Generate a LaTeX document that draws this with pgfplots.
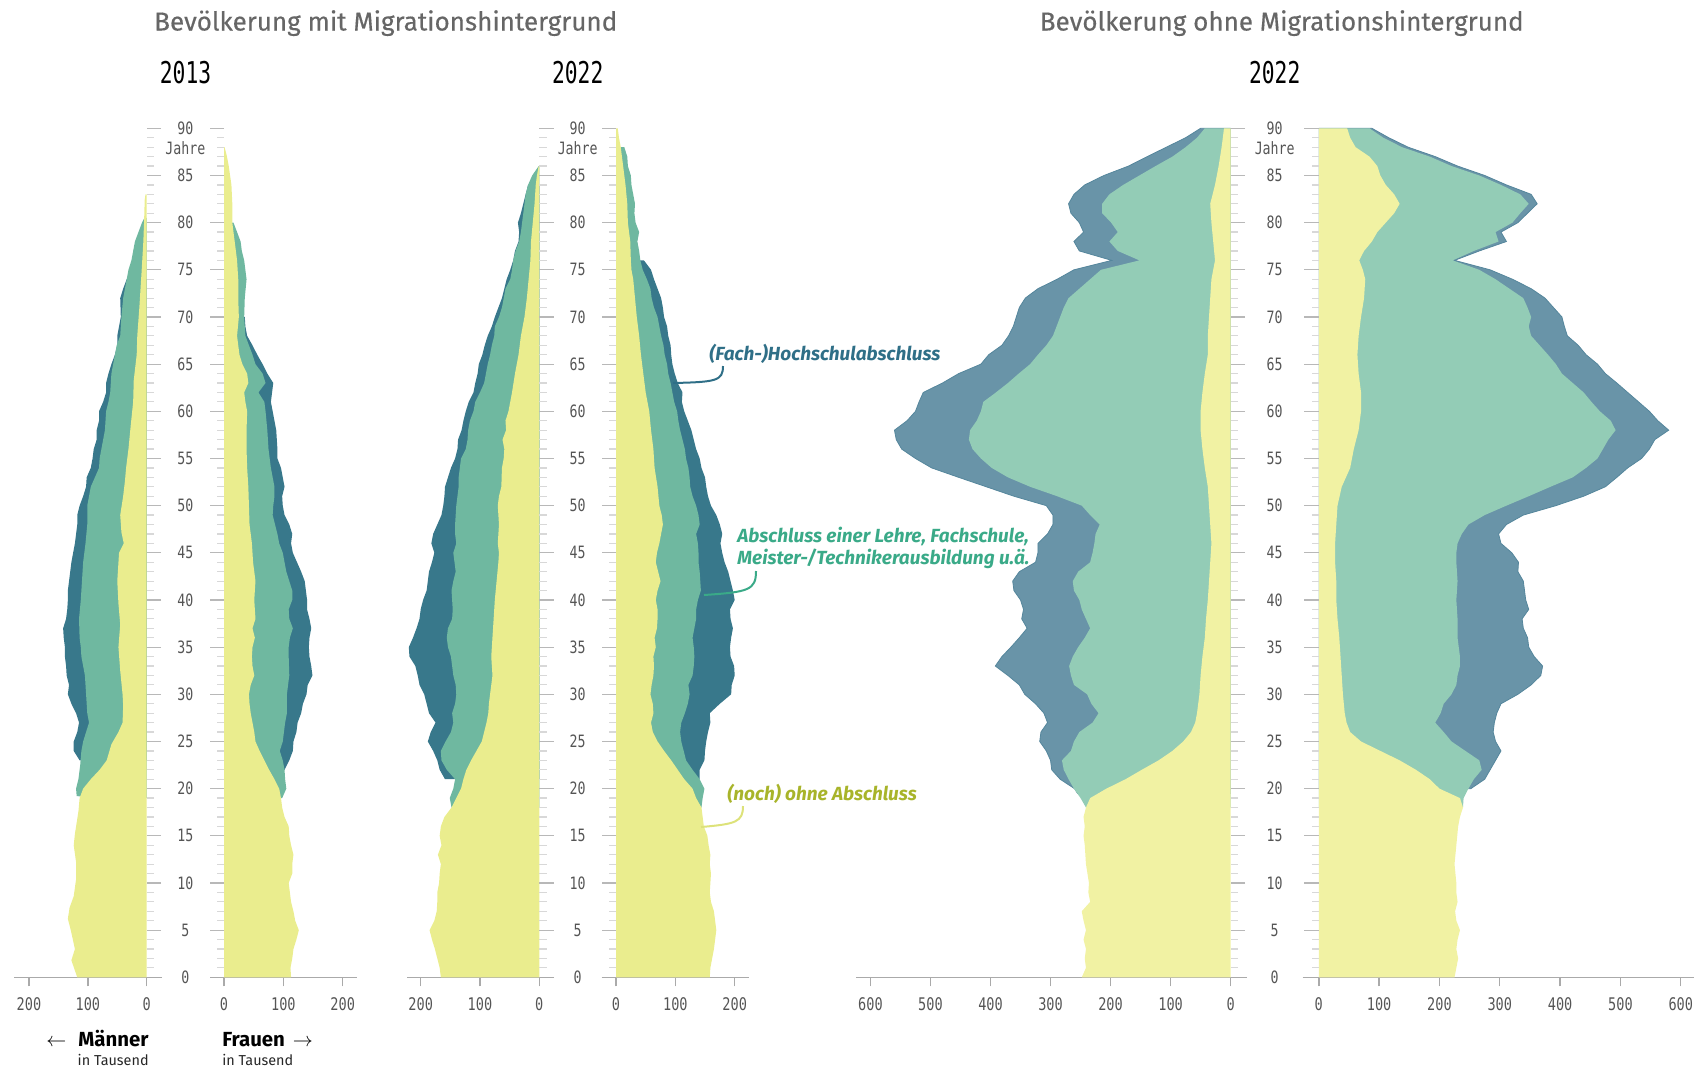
\documentclass[border=0pt]{standalone}
\usepackage{pgfplots}
\pgfplotsset{compat=1.18}
\usepackage{pgfplotstable}
\usepackage{fontspec}
\setmainfont{Fira Sans}
\newfontfamily\titlefont[FakeBold=0.35]{Fira Sans}
\newfontfamily\numfont[FakeStretch=0.78]{DejaVu Sans Mono}
\newfontfamily\yearfont[FakeStretch=0.71]{DejaVu Sans Mono}
\definecolor{Ym}{HTML}{EAED8E}
\definecolor{Gm}{HTML}{6FB8A0}
\definecolor{Tm}{HTML}{38788B}
\definecolor{Yo}{HTML}{F1F2A3}
\definecolor{Go}{HTML}{93CCB6}
\definecolor{To}{HTML}{6994A8}
\definecolor{Toe}{HTML}{55869C}
\definecolor{axgray}{HTML}{AAAAAA}
\definecolor{majg}{HTML}{B8B8B8}
\definecolor{ming}{HTML}{D8D8D8}
\definecolor{lab}{HTML}{555555}
\definecolor{titg}{HTML}{666666}
\definecolor{annT}{HTML}{2F6F87}
\definecolor{annG}{HTML}{3AAA88}
\definecolor{annY}{HTML}{A8B42A}
\definecolor{leadY}{HTML}{DDE27A}

\pgfplotstableread{
a
5
10
15
20
25
30
35
40
45
50
55
60
65
70
75
80
85
90
}\majT
\pgfplotstableread{
a
1
2
3
4
6
7
8
9
11
12
13
14
16
17
18
19
21
22
23
24
26
27
28
29
31
32
33
34
36
37
38
39
41
42
43
44
46
47
48
49
51
52
53
54
56
57
58
59
61
62
63
64
66
67
68
69
71
72
73
74
76
77
78
79
81
82
83
84
86
87
88
89
}\minT

\pgfplotsset{
 pyr/.style={scale only axis, anchor=south west, height=424.5pt, ymin=0, ymax=90, clip=false,
  axis x line*=bottom, axis y line=none,
  x axis line style={draw=axgray, line width=0.7pt},
  xtick align=outside, major tick length=4.5pt,
  tick style={draw=axgray, line width=0.7pt},
  xticklabel style={font=\numfont\fontsize{8.7}{10}\selectfont, text=lab, yshift=-2.2pt},
  /pgf/number format/assume math mode=true,
  ytick=\empty},
 majtk/.style={only marks, mark=-, mark size=3.6pt, mark options={draw=majg, line width=0.6pt}},
 mintk/.style={only marks, mark=-, mark size=1.8pt, mark options={draw=ming, line width=0.6pt}},
}

\begin{document}
\begin{tikzpicture}
\path (0pt,0pt) rectangle (853pt,-536pt);

% ---------- 2013 Maenner ----------
\begin{axis}[pyr, at={(7pt,-488.65pt)}, width=74pt, x dir=reverse, xmin=-26, xmax=225.5, xtick={0,100,200}]
\addplot[fill=Tm, draw=none] coordinates {(0,23)(114,23)(124,24)(124,25)(118,26)(115,27)(120,28)(128,29)(134,30)(132,31)(136,32)(137,33)(139,34)(139,35)(141,36)(142,37)(137,38)(135,39)(134,40)(134,41)(132,42)(130,43)(128,44)(125,45)(122,46)(120,47)(118,48)(118,49)(114,50)(108,51)(103,52)(102,53)(95,54)(92,55)(90,56)(85,57)(85,58)(81,59)(81,60)(74,61)(69,62)(69,63)(65,64)(60,65)(54,66)(50,67)(50,68)(47,69)(44,70)(45,72)(40,73)(34,74)(0,74)};
\addplot[fill=Gm, draw=none] coordinates {(0,19)(119,19.2)(120,20)(116,21)(113,22.5)(111,24)(108,25)(103,26)(98,27)(101,28)(103,30)(105,32)(111,34)(112,35)(114,36)(115,38)(112,40)(110,42)(108,44)(106,45)(104,46)(101,48)(101,50)(95,52)(88,53)(81,54)(80,55)(77,56)(71,58)(69,60)(65,61)(62,62)(60,64)(57,65)(54,66)(51,67)(45,68)(43,70)(40,72)(34,74)(31,75)(26,76)(20,78)(14,79)(8,80)(4,80.5)(0,80.5)};
\addplot[fill=Ym, draw=none] coordinates {(0,0)(118,0)(128,1.8)(122,3)(129,5)(134,6.2)(131,7.4)(124,8.6)(120,10.4)(120,12.2)(124,14)(122,15.2)(119,16.4)(116,17.6)(114,19)(108,20)(95,21)(80,22)(68,23)(60,24.7)(48,26)(41,27)(40,28.8)(41,30)(45,32.5)(48,35)(45,37.4)(48,39.6)(50,42)(47,45)(39,46)(43,47.2)(45,49)(40,51)(37,52.6)(35,54)(31,56)(27,58.6)(23,61)(22,63.3)(17,66)(16,68)(12.5,71)(8.5,75)(5.7,78)(4.5,80)(3.4,82.4)(2,83)(0,83)};
\addplot[majtk] table[x expr=-12.2, y=a] {\majT};
\addplot[mintk] table[x expr=-6.1, y=a] {\minT};
\end{axis}

% ---------- 2013 Frauen ----------
\begin{axis}[pyr, at={(105pt,-488.65pt)}, width=73.5pt, xmin=-23.6, xmax=224.1, xtick={0,100,200}]
\addplot[fill=Tm, draw=none] coordinates {(0,22)(102,22)(110,23)(116,24)(117,25)(122,26)(124,27)(130,28)(133,29)(139,30)(141,31)(149,32)(147,33)(144,34)(143,35)(144,36)(147,37)(144,38)(140,39)(140,40)(138,41)(136,42)(130,43)(123,44)(116,45)(113,46)(115,47)(110,48)(102,49)(99,50)(98,51)(102,52)(99,53)(96,54)(90,55)(90,56)(89,57)(88,58)(85,59)(82,60)(79,61)(81,62)(83,63)(73,64)(65,65)(56,66)(48,67)(39,68)(36,69)(35,70)(0,70)};
\addplot[fill=Gm, draw=none] coordinates {(0,19)(98,19)(105,20)(103,21)(102,22)(99,23)(94,24)(99,25)(101,26)(103,27)(106,28)(106,30)(110,32)(109,34)(109,35)(111,36)(116,37)(110,38)(109,39)(115,40)(115,41)(110,42)(105,43)(102,44)(99,45)(93,46)(90,47)(86,48)(82,49)(83,50)(85,51)(85,52)(82,53)(79,54)(77,55)(75,56)(73,58)(70,60)(68,61)(58,62)(70,63)(65,64)(53,65)(48,66)(42,67)(36,68)(35,69)(34,70)(35,72)(38,74)(36,75)(34,76)(30,77)(28,78)(22,79)(16,80)(0,80)};
\addplot[fill=Ym, draw=none] coordinates {(0,0)(113,0)(112,1)(115,2)(117,3)(122,4)(126,5)(120,6)(117,7)(113,8)(111,9)(109,10)(115,11)(115,12)(117,13)(113,14)(110,15)(109,16)(102,17)(98,18)(96,19)(93,20)(85,21)(76,22)(68,23)(60,24)(53,25)(51,26)(48,27)(45,28)(43,29)(42,30)(45,31)(51,32)(48,33)(47,34)(48,35)(52,36)(48,37)(53,38)(52,39)(51,40)(53,42)(49,44)(47,46)(43,48)(42,50)(41,52)(39,54)(38,56)(38,58)(39,60)(36,61)(34,62)(41,63)(39,64)(31,65)(26,66)(22,68)(25,70)(24,72)(24,74)(22,76)(20,77)(18,78)(14,80)(14,82)(12.5,84)(8,86)(5,87)(1,88)(0,88)};
\addplot[majtk] table[x expr=-12.1, y=a] {\majT};
\addplot[mintk] table[x expr=-6.1, y=a] {\minT};
\end{axis}

% ---------- 2022 mit Maenner ----------
\begin{axis}[pyr, at={(203.35pt,-488.65pt)}, width=73.65pt, x dir=reverse, xmin=-24.8, xmax=223.6, xtick={0,100,200}]
\addplot[fill=Tm, draw=none] coordinates {(0,21)(159,21)(168,22)(172,23)(179,24)(188,25)(183,26)(175,27)(186,28)(190,29)(194,30)(202,31)(205,32)(209,33)(219,34)(220,35)(213,36)(207,37)(202,38)(200,39)(196,40)(190,41)(188,42)(186,43)(181,44)(177,45)(182,46)(179,47)(172,48)(165,49)(162,50)(160,51)(159,52)(154,53)(149,54)(142,55)(138,56)(137,57)(131,58)(128,59)(124,60)(119,61)(111,62)(108,63)(104,64)(102,65)(96,66)(92,67)(87,68)(80,69)(75,70)(69,71)(63,72)(59,73)(55,74)(49,75)(44,76)(41,77)(35,78)(34,79)(36,80)(31,81)(27,82)(23,83)(19,84)(0,84)};
\addplot[fill=Gm, draw=none] coordinates {(0,18)(148,18)(151,19)(145,20)(142,21)(156,22)(165,23)(166,24)(158,25)(149,26)(145,27)(147,28)(142,29)(140,30)(141,31)(145,32)(147,33)(149,34)(154,35)(156,36)(154,37)(147,38)(146,39)(147,40)(148,41)(145,42)(141,43)(143,44)(145,45)(140,46)(142,47)(142,48)(141,49)(140,50)(138,51)(136,52)(136,53)(134,54)(132,55)(124,56)(121,57)(120,58)(117,59)(111,60)(108,61)(100,62)(93,63)(90,64)(87,65)(83,66)(80,67)(76,68)(75,69)(68,70)(63,71)(60,72)(57,73)(49,74)(46,75)(44,76)(40,77)(34,78)(31,79)(29,80)(27,81)(25,82)(23,83)(19,84)(12,85)(1,86)(0,86)};
\addplot[fill=Ym, draw=none] coordinates {(0,0)(166,0)(168,1)(172,2)(176,3)(181,4)(185,5)(177,6)(173,7)(172,8)(172,9)(169,10)(168,11)(166,12)(171,13)(165,14)(168,15)(166,16)(160,17)(148,18)(140,19)(132,20)(128,21)(123,22)(115,23)(106,24)(97,25)(93,26)(89,27)(86,28)(85,29)(83,30)(81,31)(79,32)(80,33)(81,34)(80,35)(79,36)(77,38)(75,40)(72,42)(69,44)(68,45)(70,46)(68,48)(70,50)(68,51)(64,52)(63,54)(60,55)(59,56)(62,57)(56,58)(57,59)(52,60)(46,62)(41,64)(35,66)(31,68)(25,70)(21,72)(18,74)(15,76)(14,78)(11,80)(8,82)(6,84)(4,85)(1,86)(0,86)};
\addplot[majtk] table[x expr=-12.2, y=a] {\majT};
\addplot[mintk] table[x expr=-6.1, y=a] {\minT};
\end{axis}

% ---------- 2022 mit Frauen ----------
\begin{axis}[pyr, at={(300.85pt,-488.65pt)}, width=73.65pt, xmin=-24.1, xmax=224.1, xtick={0,100,200}]
\addplot[fill=Tm, draw=none] coordinates {(0,21)(141,21)(141,22)(149,23)(150,24)(152,25)(155,26)(159,27)(158,28)(175,29)(194,30)(195,31)(200,32)(199,33)(193,34)(192,35)(194,36)(197,37)(193,38)(192,39)(200,40)(197,41)(193,42)(189,43)(183,44)(179,45)(176,46)(179,47)(175,48)(169,49)(160,50)(155,51)(152,52)(150,53)(144,54)(141,55)(135,56)(131,57)(127,58)(121,59)(115,60)(111,61)(112,62)(104,63)(99,64)(95,65)(93,66)(92,67)(88,68)(86,69)(81,70)(79,71)(76,72)(70,73)(64,74)(59,75)(47,76)(0,76)};
\addplot[fill=Gm, draw=none] coordinates {(0,18)(144,18)(146,19)(149,20)(141,21)(129,22)(118,23)(114,24)(110,25)(108,26)(110,27)(116,28)(121,29)(124,30)(122,31)(129,32)(131,33)(132,34)(131,35)(129,36)(132,37)(135,38)(135,39)(138,40)(143,41)(142,42)(141,43)(139,44)(139,45)(138,46)(135,47)(141,48)(139,49)(135,50)(129,51)(125,52)(124,53)(122,54)(118,55)(116,56)(112,57)(108,58)(105,59)(103,60)(98,61)(95,62)(92,63)(88,64)(86,65)(82,66)(80,67)(76,68)(73,69)(70,70)(64,71)(60,72)(58,73)(52,74)(45,75)(41,76)(39,77)(36,78)(39,79)(33,80)(31,81)(32,82)(29,83)(26,84)(25,85)(20,86)(19,87)(14,88)(0,88)};
\addplot[fill=Ym, draw=none] coordinates {(0,0)(158,0)(159,1)(162,2)(165,3)(167,4)(169,5)(167,6)(165,7)(160,8)(158,9)(159,10)(160,11)(158,12)(159,13)(156,14)(154,15)(148,16)(146,17)(144,18)(135,19)(129,20)(115,21)(104,22)(93,23)(81,24)(70,25)(62,26)(59,27)(63,28)(62,29)(58,30)(60,31)(63,32)(64,33)(63,34)(67,35)(65,36)(69,37)(70,38)(70,39)(67,40)(70,41)(75,42)(71,43)(67,44)(69,45)(73,46)(76,47)(79,48)(77,49)(73,50)(70,52)(65,54)(63,56)(59,58)(56,60)(50,62)(46,64)(42,66)(39,68)(35,70)(32,72)(29,74)(26,75)(25,76)(24,78)(20,80)(19,82)(16,84)(12,86)(8,88)(5,89)(3,90)(0,90)};
\addplot[majtk] table[x expr=-12.1, y=a] {\majT};
\addplot[mintk] table[x expr=-6.1, y=a] {\minT};
\end{axis}

% ---------- 2022 ohne Maenner ----------
\begin{axis}[pyr, at={(427.75pt,-488.65pt)}, width=195.75pt, x dir=reverse, xmin=-27.3, xmax=624.9, xtick={0,100,...,600}]
\addplot[fill=To, draw=Toe, line width=0.4pt] coordinates {(0,19.5)(255,19.5)(260,20)(284,21)(298,22)(300,23)(307,24)(318,25)(316,26)(305,27)(311,28)(325,29)(343,30)(352,31)(371,32)(392,33)(381,34)(366,35)(352,36)(339,37)(348,38)(345,39)(350,40)(361,41)(363,42)(352,43)(325,44)(321,45)(321,46)(305,47)(296,48)(296,49)(307,50)(361,51)(407,52)(453,53)(498,54)(525,55)(548,56)(557,57)(560,58)(539,59)(525,60)(519,61)(512,62)(480,63)(453,64)(416,65)(403,66)(381,67)(370,68)(362,69)(357,70)(352,71)(342,72)(321,73)(289,74)(261,75)(198,76)(252,77)(261,78)(245,79)(252,80)(266,81)(270,82)(261,83)(243,84)(211,85)(170,86)(139,87)(107,88)(75,89)(50,90)(0,90)};
\addplot[fill=Go, draw=none] coordinates {(0,18)(241,18)(250,19)(261,20)(270,21)(278,22)(281,23)(266,24)(261,25)(252,26)(230,27)(220,28)(232,29)(239,30)(261,31)(266,32)(269,33)(263,34)(254,35)(243,36)(234,37)(241,38)(248,39)(252,40)(261,41)(263,42)(254,43)(234,44)(230,45)(227,46)(225,47)(218,48)(234,49)(248,50)(289,51)(334,52)(371,53)(398,54)(416,55)(430,56)(436,57)(434,58)(423,59)(416,60)(412,61)(391,62)(371,63)(353,64)(334,65)(321,66)(307,67)(296,68)(290,69)(284,70)(278,71)(270,72)(252,73)(234,74)(216,75)(152,76)(188,77)(202,78)(188,79)(199,80)(214,81)(214,82)(202,83)(179,84)(152,85)(125,86)(97,87)(75,88)(56,89)(43,90)(0,90)};
\addplot[fill=Yo, draw=none] coordinates {(0,0)(248,0)(241,1)(243,2)(241,3)(245,4)(241,5)(245,6)(248,7)(234,8)(237,9)(236,10)(241,12)(243,14)(245,15)(243,16)(245,17)(241,18)(234,19)(207,20)(175,21)(148,22)(120,23)(97,24)(79,25)(66,26)(59,27)(56,28)(52,30)(50,32)(47,34)(43,36)(41,38)(38,40)(36,42)(34,44)(32,46)(34,48)(36,50)(38,52)(43,54)(47,56)(50,58)(50,60)(47,62)(43,64)(38,66)(38,68)(36,70)(34,72)(32,74)(26,76)(29,78)(32,80)(34,82)(26,84)(20,86)(15,88)(11,90)(0,90)};
\addplot[majtk] table[x expr=-12, y=a] {\majT};
\addplot[mintk] table[x expr=-6, y=a] {\minT};
\end{axis}

% ---------- 2022 ohne Frauen ----------
\begin{axis}[pyr, at={(651.25pt,-488.65pt)}, width=195.75pt, xmin=-27, xmax=622, xtick={0,100,...,600}]
\addplot[fill=To, draw=Toe, line width=0.4pt] coordinates {(0,20)(252,20)(275,21)(284,22)(293,23)(302,24)(293,25)(289,26)(291,27)(295,28)(302,29)(330,30)(352,31)(368,32)(371,33)(357,34)(348,35)(346,36)(339,37)(337,38)(348,39)(343,40)(341,41)(339,42)(330,43)(331,44)(320,45)(302,46)(298,47)(311,48)(339,49)(393,50)(439,51)(475,52)(494,53)(512,54)(535,55)(548,56)(557,57)(580,58)(562,59)(548,60)(530,61)(512,62)(494,63)(475,64)(462,65)(443,66)(430,67)(412,68)(407,69)(403,70)(389,71)(375,72)(352,73)(321,74)(284,75)(225,76)(266,77)(311,78)(302,79)(330,80)(346,81)(362,82)(352,83)(311,84)(275,85)(230,86)(193,87)(148,88)(116,89)(88,90)(0,90)};
\addplot[fill=Go, draw=none] coordinates {(0,18)(239,18)(240,19)(248,20)(257,21)(270,22)(266,23)(243,24)(220,25)(207,26)(193,27)(202,28)(207,29)(220,30)(228,31)(230,32)(234,33)(234,34)(232,35)(230,36)(230,38)(228,40)(230,42)(228,44)(228,45)(230,46)(237,47)(248,48)(275,49)(311,50)(348,51)(384,52)(421,53)(443,54)(462,55)(471,56)(480,57)(492,58)(484,59)(466,60)(452,61)(439,62)(421,63)(403,64)(393,65)(380,66)(366,67)(352,68)(348,69)(352,70)(346,71)(339,72)(316,73)(293,74)(266,75)(222,76)(257,77)(298,78)(293,79)(321,80)(334,81)(348,82)(334,83)(302,84)(266,85)(220,86)(184,87)(138,88)(107,89)(84,90)(0,90)};
\addplot[fill=Yo, draw=none] coordinates {(0,0)(225,0)(228,1)(231,2)(228,3)(230,4)(234,5)(228,6)(226,7)(230,8)(228,9)(228,10)(225,12)(228,14)(231,16)(234,17)(239,18)(234,19)(200,20)(184,21)(161,22)(134,23)(102,24)(70,25)(52,26)(46,27)(43,28)(40,30)(38,32)(36,34)(34,36)(31,38)(29,40)(29,42)(27,44)(27,46)(29,48)(31,50)(38,52)(52,54)(58,56)(66,58)(70,60)(70,62)(66,64)(64,66)(66,68)(70,70)(75,72)(77,74)(73,75)(67,76)(75,77)(88,78)(97,79)(111,80)(125,81)(134,82)(125,83)(111,84)(102,85)(97,86)(84,87)(61,88)(52,89)(47,90)(0,90)};
\addplot[majtk] table[x expr=-12, y=a] {\majT};
\addplot[mintk] table[x expr=-6, y=a] {\minT};
\end{axis}

% ---------- texts ----------
\begin{scope}[x=0.5pt, y=-0.5pt]
\node[anchor=base, text=titg, font=\titlefont\fontsize{13}{15}\selectfont] at (385.7,30.5) {Bevölkerung mit Migrationshintergrund};
\node[anchor=base, text=titg, font=\titlefont\fontsize{13}{15}\selectfont] at (1281.7,30.5) {Bevölkerung ohne Migrationshintergrund};
\node[anchor=base, font=\yearfont\fontsize{15}{17}\selectfont] at (185.5,83) {2013};
\node[anchor=base, font=\yearfont\fontsize{15}{17}\selectfont] at (577.7,83) {2022};
\node[anchor=base, font=\yearfont\fontsize{15}{17}\selectfont] at (1274.7,83) {2022};
\foreach \cx in {185.4,577.7,1274.7}{
  \foreach \a in {0,5,...,85,90}{
    \node[text=lab, font=\numfont\fontsize{8.5}{10}\selectfont, inner sep=0pt] at (\cx,{977.3-\a*9.433}) {\a};
  }
  \node[text=lab, font=\numfont\fontsize{8.5}{10}\selectfont, inner sep=0pt] at (\cx,148.5) {Jahre};
}
\node[anchor=base east, inner sep=0pt, font=\fontsize{10.2}{12}\selectfont] at (149,1046) {$\leftarrow$\hspace{6pt}\textbf{Männer}};
\node[anchor=base east, inner sep=0pt, font=\fontsize{7.2}{8}\selectfont, text=black!85] at (149,1065) {in Tausend};
\node[anchor=base west, inner sep=0pt, font=\fontsize{10.2}{12}\selectfont] at (222,1046) {\textbf{Frauen}\hspace{4pt}$\rightarrow$};
\node[anchor=base west, inner sep=0pt, font=\fontsize{7.2}{8}\selectfont, text=black!85] at (222,1065) {in Tausend};

\node[anchor=base west, inner sep=0pt, text=annT, font=\bfseries\itshape\fontsize{9.5}{11}\selectfont] at (709,360) {(Fach-)Hochschulabschluss};
\draw[annT, line width=1pt] (723,366) .. controls (723,381) and (716,382) .. (673,383);
\node[anchor=base west, inner sep=0pt, text=annG, font=\bfseries\itshape\fontsize{9.5}{11}\selectfont] at (737,542) {Abschluss einer Lehre, Fachschule,};
\node[anchor=base west, inner sep=0pt, text=annG, font=\bfseries\itshape\fontsize{9.5}{11}\selectfont] at (737,564) {Meister-/Technikerausbildung u.ä.};
\draw[annG, line width=1pt] (756,571) .. controls (756,590) and (749,592) .. (704,595);
\node[anchor=base west, inner sep=0pt, text=annY, font=\bfseries\itshape\fontsize{9.5}{11}\selectfont] at (727,800) {(noch) ohne Abschluss};
\draw[leadY, line width=1pt] (743,806) .. controls (743,822) and (736,824) .. (701,827);
\end{scope}
\end{tikzpicture}
\end{document}
